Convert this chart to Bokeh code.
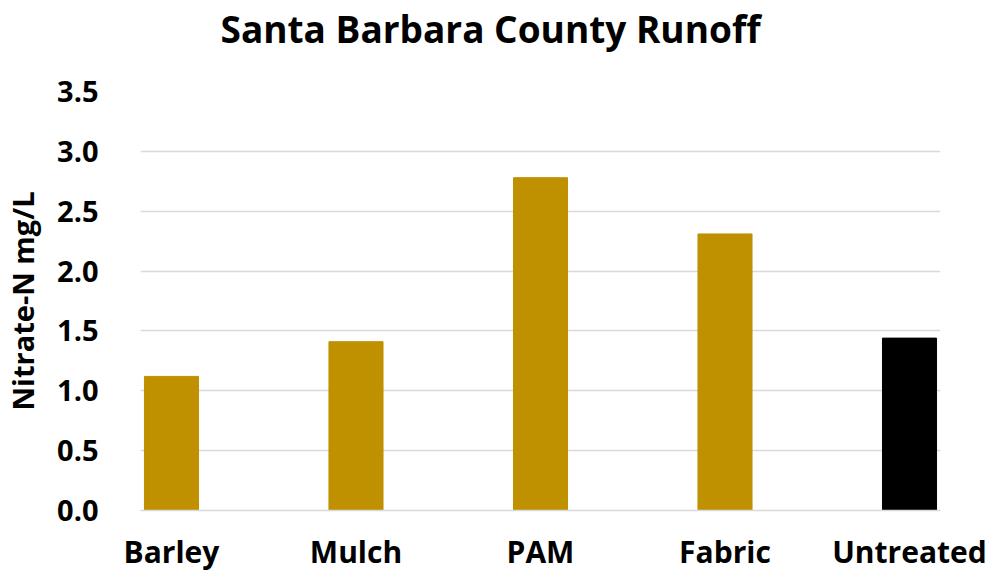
from bokeh.plotting import figure
from bokeh.models import Range1d, FixedTicker, NumeralTickFormatter, Title, ColumnDataSource
from bokeh.embed import file_html
from bokeh.resources import INLINE

categories = ["Barley", "Mulch", "PAM", "Fabric", "Untreated"]
values = [1.12, 1.41, 2.78, 2.31, 1.44]
colors = ["#BF9000", "#BF9000", "#BF9000", "#BF9000", "#000000"]
y_ticks = [0.0, 0.5, 1.0, 1.5, 2.0, 2.5, 3.0, 3.5]
title_text = "Santa Barbara County Runoff"
y_label = "Nitrate-N mg/L"

FONT = "Open Sans"

xs = list(range(len(categories)))
src = ColumnDataSource(dict(x=xs, top=values, color=colors))

p = figure(width=992, height=574, output_backend="svg", toolbar_location=None,
           title=None,
           x_range=Range1d(-0.168, 4.168), y_range=Range1d(0, 3.5),
           min_border_left=140, min_border_right=52, min_border_top=91, min_border_bottom=64)
p.outline_line_color = None
p.background_fill_color = "white"
p.border_fill_color = "white"

# spacer between title and plot frame
p.add_layout(Title(text=" ", text_font_size="1px", standoff=35), "above")
p.add_layout(Title(text=title_text, align="left", offset=80, text_font=FONT,
                   text_font_style="bold", text_font_size="37px", text_color="black",
                   standoff=0), "above")

p.vbar(x="x", top="top", width=0.293, color="color", source=src)

p.xgrid.visible = False
p.ygrid.ticker = FixedTicker(ticks=y_ticks)
p.ygrid.grid_line_color = "#d9d9d9"
p.ygrid.grid_line_width = 1.5

ya = p.yaxis[0]
ya.ticker = FixedTicker(ticks=y_ticks)
ya.formatter = NumeralTickFormatter(format="0.0")
ya.axis_line_color = None
ya.major_tick_line_color = None
ya.minor_tick_line_color = None
ya.major_label_text_font = FONT
ya.major_label_text_font_style = "bold"
ya.major_label_text_font_size = "29px"
ya.major_label_text_color = "black"
ya.major_label_standoff = 36
ya.axis_label = y_label
ya.axis_label_text_font = FONT
ya.axis_label_text_font_style = "bold"
ya.axis_label_text_font_size = "29px"
ya.axis_label_text_color = "black"
ya.axis_label_standoff = 12

xa = p.xaxis[0]
xa.ticker = FixedTicker(ticks=xs)
xa.major_label_overrides = {i: c for i, c in zip(xs, categories)}
xa.axis_line_color = "#d9d9d9"
xa.axis_line_width = 1.5
xa.major_tick_line_color = None
xa.minor_tick_line_color = None
xa.major_label_text_font = FONT
xa.major_label_text_font_style = "bold"
xa.major_label_text_font_size = "30px"
xa.major_label_text_color = "black"
xa.major_label_standoff = 14

open("out.html", "w").write(file_html(p, INLINE))
